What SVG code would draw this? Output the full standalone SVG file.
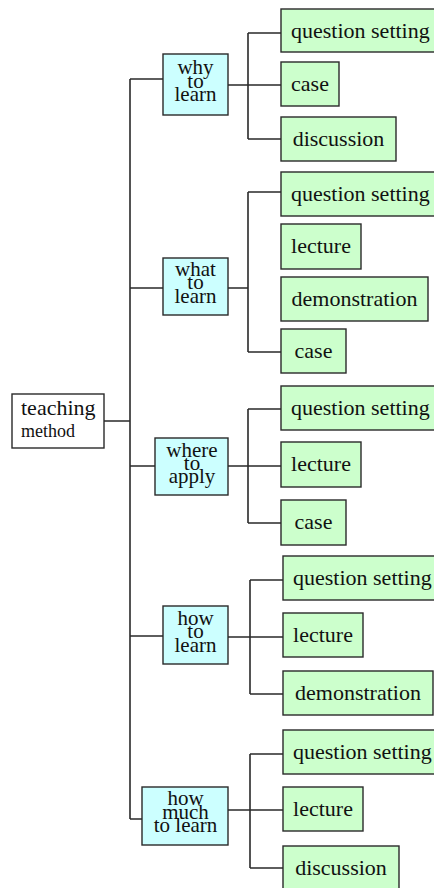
<svg xmlns="http://www.w3.org/2000/svg" width="434" height="888" viewBox="0 0 434 888">
<style>
.g{fill:#ccffcc;stroke:#2a2a2a;stroke-width:1.4}
.c{fill:#ccffff;stroke:#2a2a2a;stroke-width:1.4}
.r{fill:#ffffff;stroke:#2a2a2a;stroke-width:1.4}
text{font-family:"Liberation Serif","Times New Roman",serif;font-size:22px;fill:#111}
.m{text-anchor:middle}
.n{font-size:21px;text-anchor:middle}
#conn path{fill:none;stroke:#2a2a2a;stroke-width:1.6}
</style>
<rect width="434" height="888" fill="#ffffff"/>
<g id="conn">
<path d="M104,421H130M130,79V819M130,79H163M130,288H163M130,466H155M130,636H163M130,819H142"/>
<path d="M228,85H281M248,33V139M248,33H281M248,139H281"/>
<path d="M228,288H248M248,192V352M248,192H281M248,352H281"/>
<path d="M228,466H281M248,409V523M248,409H281M248,523H281"/>
<path d="M228,637H283M250,580V694M250,580H283M250,694H283"/>
<path d="M228,810H283M250,754V868M250,754H283M250,868H283"/>
</g>
<g id="root"><rect class="r" x="12" y="394" width="92" height="54"/><text x="21" y="415">teaching</text><text x="21" y="437" style="font-size:18px">method</text></g>
<g id="why"><rect class="c" x="163" y="54" width="65" height="61"/><text class="n" x="195.5" y="74">why</text><text class="n" x="195.5" y="88">to</text><text class="n" x="195.5" y="101">learn</text></g>
<g id="what"><rect class="c" x="163" y="258" width="65" height="57"/><text class="n" x="195.5" y="276">what</text><text class="n" x="195.5" y="289">to</text><text class="n" x="195.5" y="303">learn</text></g>
<g id="where"><rect class="c" x="155" y="438" width="73" height="57"/><text class="n" x="192" y="457">where</text><text class="n" x="192" y="470">to</text><text class="n" x="192" y="483">apply</text></g>
<g id="how"><rect class="c" x="163" y="606" width="65" height="58"/><text class="n" x="195.5" y="625">how</text><text class="n" x="195.5" y="638">to</text><text class="n" x="195.5" y="652">learn</text></g>
<g id="howmuch"><rect class="c" x="142" y="787" width="86" height="58"/><text class="n" x="185.5" y="805">how</text><text class="n" x="185.5" y="819">much</text><text class="n" x="185.5" y="832">to learn</text></g>
<g id="q1"><rect class="g" x="281" y="9" width="160" height="43"/><text x="291" y="38">question setting</text></g>
<g id="case1"><rect class="g" x="281" y="62" width="58" height="44"/><text class="m" x="310" y="91">case</text></g>
<g id="disc1"><rect class="g" x="281" y="117" width="115" height="44"/><text class="m" x="338.5" y="146">discussion</text></g>
<g id="q2"><rect class="g" x="281" y="172" width="160" height="44"/><text x="291" y="201">question setting</text></g>
<g id="lec2"><rect class="g" x="281" y="224" width="80" height="45"/><text class="m" x="321" y="253">lecture</text></g>
<g id="demo2"><rect class="g" x="281" y="277" width="147" height="44"/><text class="m" x="354.5" y="306">demonstration</text></g>
<g id="case2"><rect class="g" x="281" y="329" width="65" height="44"/><text class="m" x="313.5" y="358">case</text></g>
<g id="q3"><rect class="g" x="281" y="386" width="160" height="44"/><text x="291" y="415">question setting</text></g>
<g id="lec3"><rect class="g" x="281" y="442" width="80" height="45"/><text class="m" x="321" y="471">lecture</text></g>
<g id="case3"><rect class="g" x="281" y="500" width="65" height="45"/><text class="m" x="313.5" y="529">case</text></g>
<g id="q4"><rect class="g" x="283" y="556" width="160" height="44"/><text x="293" y="585">question setting</text></g>
<g id="lec4"><rect class="g" x="283" y="613" width="80" height="44"/><text class="m" x="323" y="642">lecture</text></g>
<g id="demo4"><rect class="g" x="283" y="671" width="150" height="44"/><text class="m" x="358" y="700">demonstration</text></g>
<g id="q5"><rect class="g" x="283" y="730" width="160" height="44"/><text x="293" y="759">question setting</text></g>
<g id="lec5"><rect class="g" x="283" y="787" width="80" height="44"/><text class="m" x="323" y="816">lecture</text></g>
<g id="disc5"><rect class="g" x="283" y="846" width="116" height="44"/><text class="m" x="341" y="875">discussion</text></g>
</svg>
